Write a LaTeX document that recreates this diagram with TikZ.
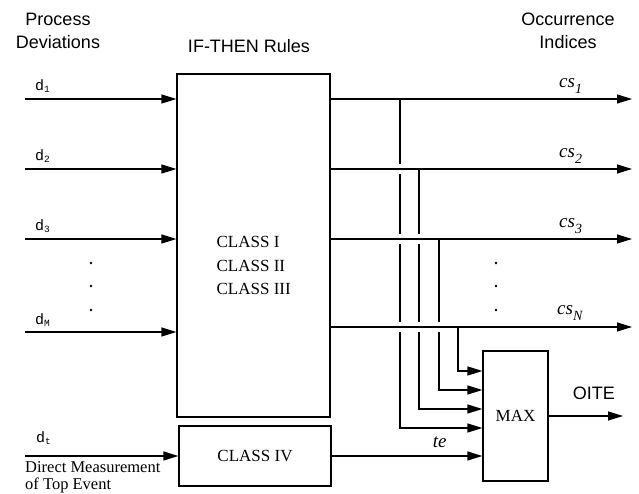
\documentclass[tikz,border=0pt]{standalone}
\usepackage{fontspec}
\setmainfont{Liberation Serif}
\setsansfont{Liberation Sans}
\setmonofont{Liberation Mono}
\usetikzlibrary{positioning,arrows.meta,calc}

\newcommand{\dsub}[1]{\raisebox{-1.5pt}{\fontsize{9.5}{10}\selectfont #1}}
\newcommand{\cssub}[1]{\raisebox{-6pt}{\fontsize{14}{14}\selectfont\itshape #1}}

\begin{document}
\begin{tikzpicture}[
    x=1pt, y=1pt,
    >={Triangle[length=15pt,width=9pt]},
    heading/.style={font=\sffamily\fontsize{18}{23}\selectfont, align=center, inner sep=0pt},
    block/.style={draw, line width=1.2pt, inner sep=0pt,
        font=\rmfamily\fontsize{17}{20}\selectfont},
    classtext/.style={font=\rmfamily\fontsize{17}{23.5}\selectfont, align=left, inner sep=0pt},
    note/.style={font=\rmfamily\fontsize{16.5}{17}\selectfont, align=left, inner sep=0pt},
    dlab/.style={font=\ttfamily\fontsize{15}{15}\selectfont, inner sep=0pt},
    cslab/.style={font=\rmfamily\itshape\fontsize{19}{19}\selectfont, inner sep=0pt},
    arr/.style={->, line width=1.2pt},
]
\useasboundingbox (0,0) rectangle (639,494);

% === Blocks ===
\node[block, minimum width=153pt, minimum height=343pt] (rules) at (253.5,248.5) {};
\node[block, minimum width=152pt, minimum height=60pt] (classiv) at (255,38) {CLASS IV};
\node[block, minimum width=65pt, minimum height=130pt] (maxbox) at (515.5,78) {MAX};

\node[classtext, anchor=north west] at ([shift={(40,-163)}]rules.north west)
    {CLASS I\\CLASS II\\CLASS III};

% Headings
\node[heading] (procdev) at (58,463) {Process\\Deviations};
\node[heading, anchor=base] (ifthen) at ([shift={(-4.5,21)}]rules.north) {IF-THEN Rules};
\node[heading] (occind) at (568,463.5) {Occurrence\\Indices};

% === Inputs ===
\coordinate (in1) at (25,395);
\coordinate (in2) at (25,325);
\coordinate (in3) at (25,255);
\coordinate (inM) at (25,162);
\coordinate (intop) at (25,38);

\draw[arr] (in1) -- (in1 -| rules.west);
\draw[arr] (in2) -- (in2 -| rules.west);
\draw[arr] (in3) -- (in3 -| rules.west);
\draw[arr] (inM) -- (inM -| rules.west);
\draw[arr] (intop) -- (classiv.west);

\node[dlab, anchor=base west] at ([shift={(10,8)}]in1) {d\dsub{1}};
\node[dlab, anchor=base west] at ([shift={(10,8)}]in2) {d\dsub{2}};
\node[dlab, anchor=base west] at ([shift={(10,8)}]in3) {d\dsub{3}};
\node[dlab, anchor=base west] at ([shift={(10,7)}]inM) {d\dsub{M}};
\node[dlab, anchor=base west] at ([shift={(11,13)}]intop) {d\dsub{t}};

\node[note, anchor=north west] at ([yshift=-5.5pt]intop) {Direct Measurement\\of Top Event};

% === Outputs ===
\coordinate (out1) at (632,395);
\coordinate (out2) at (632,325);
\coordinate (out3) at (632,255);
\coordinate (out4) at (632,167);

\coordinate (tap1) at (400,395);
\coordinate (tap2) at (419,325);
\coordinate (tap3) at (439,255);
\coordinate (tap4) at (458,167);

% Taps into MAX
\draw[arr] (tap1) |- ([yshift=-12pt]maxbox.west);
\draw[arr] (tap2) |- ([yshift=7pt]maxbox.west);
\draw[arr] (tap3) |- ([yshift=26pt]maxbox.west);
\draw[arr] (tap4) |- ([yshift=45pt]maxbox.west);
\draw[arr] (classiv.east) -- (classiv.east -| maxbox.west);

% Gaps where taps cross the lower outputs
\foreach \v/\h in {1/2,1/3,2/3,1/4,2/4,3/4}
    \fill[white] ($(tap\v |- out\h)+(-2,-5)$) rectangle ($(tap\v |- out\h)+(2,5)$);

\draw[arr] (rules.east |- out1) -- (out1);
\draw[arr] (rules.east |- out2) -- (out2);
\draw[arr] (rules.east |- out3) -- (out3);
\draw[arr] (rules.east |- out4) -- (out4);

\node[cslab, anchor=base west] at ([shift={(-73,11)}]out1) {cs\cssub{1}};
\node[cslab, anchor=base west] at ([shift={(-73,11)}]out2) {cs\cssub{2}};
\node[cslab, anchor=base west] at ([shift={(-73,11)}]out3) {cs\cssub{3}};
\node[cslab, anchor=base west] at ([shift={(-75,12)}]out4) {cs\cssub{N}};

\node[cslab, anchor=base west] at ([shift={(101,8)}]classiv.east) {te};

% OITE
\coordinate (oite) at (623,78);
\draw[arr] (maxbox.east) -- (oite);
\node[heading, anchor=base west] at ([shift={(24,16)}]maxbox.east) {OITE};

% Dots
\foreach \y in {231,208,184} {
    \fill (91,\y) circle (1.3);
    \fill (496,\y) circle (1.3);
}
\end{tikzpicture}
\end{document}
